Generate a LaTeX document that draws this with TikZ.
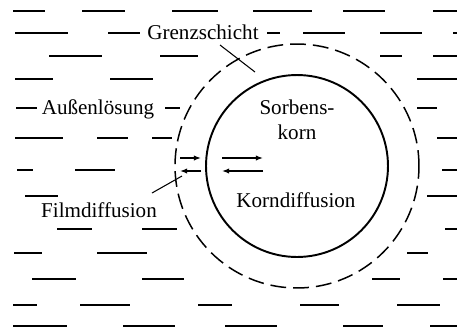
\documentclass[tikz,border=0pt]{standalone}
\usepackage{fontspec}
\setmainfont{Liberation Serif}
\usetikzlibrary{arrows.meta}

\begin{document}
\begin{tikzpicture}[x=0.02cm, y=-0.02cm,
            wave/.style={line width=0.6pt, black},
            lbl/.style={font=\fontsize{12}{14.5}\selectfont, inner sep=0pt, anchor=base},
            flux/.style={line width=0.8pt, -{Latex[length=4pt, width=3pt]}}]
            \useasboundingbox (0,0) rectangle (457,329);
            % Solution
            \foreach \a/\b/\y in {13/45/11, 82/125/11, 172/218/11, 253/312/11, 343/385/11, 433/457/11,
                15/68/33, 108/140/33, 267/280/33, 303/345/33, 380/422/33, 453/457/33,
                49/102/56, 160/198/56, 380/402/56, 433/457/56,
                15/53/79, 110/153/79, 417/457/79,
                16/37/108, 165/180/108, 417/437/108,
                15/63/138, 97/128/138, 152/172/138, 437/457/138,
                17/33/170, 75/115/170, 442/457/170,
                25/58/196, 427/457/196,
                57/92/229, 142/177/229, 445/457/229,
                14/42/253, 97/147/253, 407/428/253,
                32/76/279, 142/184/279, 372/400/279, 443/457/279,
                13/37/305, 80/130/305, 198/232/305, 300/339/305, 397/440/305,
                13/67/326, 123/175/326, 225/277/326, 343/383/326, 430/457/326} {
                \draw[wave] (\a,\y) -- (\b,\y);
            }
            % Grain and film
            \node[circle, draw, line width=0.85pt, dash pattern=on 9pt off 4pt,
                minimum size=4.88cm, inner sep=0pt] (film) at (297,166) {};
            \node[circle, draw, line width=1.1pt, minimum size=3.64cm, inner sep=0pt] (korn) at (297,166) {};
            % Labels
            \node[lbl] (grenz) at (203,39) {Grenzschicht};
            \node[lbl] (aussen) at (98,114) {Außenlösung};
            \node[lbl, anchor=center, align=center] (sorb) at (297,120) {Sorbens-\\korn};
            \node[lbl] (kdiff) at (296,207) {Korndiffusion};
            \node[lbl] (fdiff) at (99,217) {Filmdiffusion};
            % Pointers
            \coordinate (gz-a) at (220,45);
            \coordinate (gz-b) at (255,72);
            \coordinate (fd-a) at (152,193);
            \coordinate (fd-b) at (182,176);
            \draw[line width=0.6pt] (gz-a) -- (gz-b);
            \draw[line width=0.6pt] (fd-a) -- (fd-b);
            % Fluxes
            \coordinate (f1) at (180,158);
            \coordinate (f2) at (201,158);
            \coordinate (f3) at (180,171);
            \coordinate (f4) at (201,171);
            \coordinate (k1) at (222,158);
            \coordinate (k2) at (263,158);
            \coordinate (k3) at (222,171);
            \coordinate (k4) at (263,171);
            \draw[flux] (f1) -- (f2);
            \draw[flux] (f4) -- (f3);
            \draw[flux] (k1) -- (k2);
            \draw[flux] (k4) -- (k3);
\end{tikzpicture}
\end{document}
